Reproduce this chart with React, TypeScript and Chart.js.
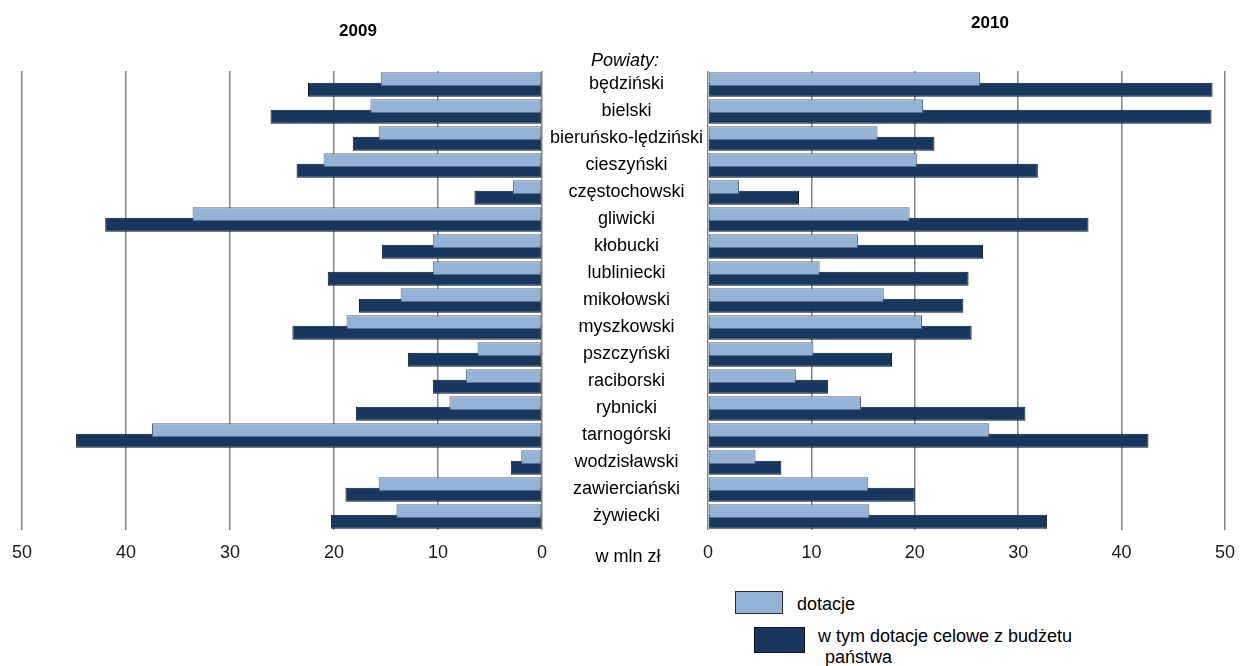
import React, { useEffect, useRef } from "react";
import { Chart, registerables } from "chart.js";

Chart.register(...registerables);

const categories = [
  "będziński", "bielski", "bieruńsko-lędziński", "cieszyński", "częstochowski",
  "gliwicki", "kłobucki", "lubliniecki", "mikołowski", "myszkowski",
  "pszczyński", "raciborski", "rybnicki", "tarnogórski", "wodzisławski",
  "zawierciański", "żywiecki",
];

const dotacje2009 = [15.5, 16.5, 15.7, 21.0, 2.8, 33.6, 10.5, 10.5, 13.6, 18.8, 6.2, 7.3, 8.9, 37.5, 2.0, 15.7, 14.0];
const celowe2009 = [22.5, 26.1, 18.2, 23.6, 6.5, 42.0, 15.4, 20.6, 17.6, 24.0, 12.9, 10.5, 17.9, 44.8, 3.0, 18.9, 20.3];
const dotacje2010 = [26.3, 20.8, 16.4, 20.2, 3.0, 19.5, 14.5, 10.8, 17.0, 20.7, 10.2, 8.5, 14.8, 27.2, 4.6, 15.5, 15.6];
const celowe2010 = [48.8, 48.7, 21.9, 31.9, 8.8, 36.8, 26.6, 25.2, 24.7, 25.5, 17.8, 11.6, 30.7, 42.6, 7.1, 20.0, 32.8];

const seriesNames = ["dotacje", "w tym dotacje celowe z budżetu państwa"];
const xTicks = [0, 10, 20, 30, 40, 50];

const LIGHT = "#95B3D7";
const LIGHT_BORDER = "#56677c";
const DARK = "#17375E";
const DARK_BORDER = "#0a1526";
const GRID = "#858585";
const FONT = "'Liberation Sans', Arial, sans-serif";

function makeDatasets(d: number[], c: number[]) {
  return [
    {
      label: seriesNames[0],
      data: d,
      backgroundColor: LIGHT,
      borderColor: LIGHT_BORDER,
      borderWidth: 1,
      borderSkipped: false,
      categoryPercentage: 0.77,
      barPercentage: 1.36,
    },
    {
      label: seriesNames[1],
      data: c,
      backgroundColor: DARK,
      borderColor: DARK_BORDER,
      borderWidth: 1,
      borderSkipped: false,
      categoryPercentage: 0.77,
      barPercentage: 1.36,
    },
  ];
}

function xScale(reverse: boolean) {
  return {
    type: "linear",
    position: "bottom",
    min: xTicks[0],
    max: xTicks[xTicks.length - 1],
    reverse,
    afterBuildTicks: (scale: any) => {
      scale.ticks = xTicks.map((v) => ({ value: v }));
    },
    afterFit: (scale: any) => {
      scale.height = 50;
    },
    grid: { color: GRID, lineWidth: 1.5, drawTicks: false },
    border: { display: false },
    ticks: { font: { family: FONT, size: 18 }, color: "#1a1a1a", padding: 12 },
  };
}

export default function App() {
  const leftRef = useRef<HTMLCanvasElement>(null);
  const rightRef = useRef<HTMLCanvasElement>(null);

  useEffect(() => {
    const left = new Chart(leftRef.current as HTMLCanvasElement, {
      type: "bar",
      data: { labels: categories, datasets: makeDatasets(dotacje2009, celowe2009) as any },
      options: {
        indexAxis: "y",
        animation: false,
        responsive: false,
        layout: { padding: { left: 22, right: 18, top: 71, bottom: 0 } },
        plugins: { legend: { display: false }, tooltip: { enabled: false } },
        scales: {
          x: xScale(true) as any,
          y: { type: "category", display: false },
        },
      },
    });
    const right = new Chart(rightRef.current as HTMLCanvasElement, {
      type: "bar",
      data: { labels: categories, datasets: makeDatasets(dotacje2010, celowe2010) as any },
      options: {
        indexAxis: "y",
        animation: false,
        responsive: false,
        layout: { padding: { left: 0, right: 19, top: 71, bottom: 0 } },
        plugins: { legend: { display: false }, tooltip: { enabled: false } },
        scales: {
          x: xScale(false) as any,
          y: {
            type: "category",
            position: "left",
            afterFit: (scale: any) => {
              scale.width = 166;
            },
            grid: { display: false, drawTicks: false },
            border: { display: false },
            ticks: {
              autoSkip: false,
              crossAlign: "center",
              padding: 5,
              font: { family: FONT, size: 18 },
              color: "#000",
            },
          },
        },
      },
    });
    return () => {
      left.destroy();
      right.destroy();
    };
  }, []);

  const text: React.CSSProperties = {
    position: "absolute",
    fontFamily: FONT,
    fontSize: 18,
    color: "#000",
    lineHeight: "21px",
    whiteSpace: "nowrap",
  };

  return (
    <div style={{ position: "absolute", left: 0, top: 0, width: 1247, height: 666, background: "#fff", overflow: "hidden" }}>
      <canvas ref={leftRef} width={560} height={580} style={{ position: "absolute", left: 0, top: 0, width: 560, height: 580 }} />
      <canvas ref={rightRef} width={705} height={580} style={{ position: "absolute", left: 542, top: 0, width: 705, height: 580 }} />
      <div style={{ ...text, left: 318, top: 20, width: 80, textAlign: "center", fontWeight: "bold", fontSize: 17 }}>2009</div>
      <div style={{ ...text, left: 950, top: 12, width: 80, textAlign: "center", fontWeight: "bold", fontSize: 17 }}>2010</div>
      <div style={{ ...text, left: 565, top: 50, width: 120, textAlign: "center", fontStyle: "italic" }}>Powiaty:</div>
      <div style={{ ...text, left: 568, top: 546, width: 120, textAlign: "center" }}>w mln zł</div>
      <div style={{ position: "absolute", left: 735, top: 591, width: 46, height: 21, background: LIGHT, border: "1px solid #2b2b2b" }} />
      <div style={{ ...text, left: 797, top: 594 }}>{seriesNames[0]}</div>
      <div style={{ position: "absolute", left: 754, top: 627, width: 49, height: 24, background: DARK, border: "1px solid #111" }} />
      <div style={{ ...text, left: 818, top: 626 }}>w tym dotacje celowe z budżetu</div>
      <div style={{ ...text, left: 825, top: 647 }}>państwa</div>
    </div>
  );
}
